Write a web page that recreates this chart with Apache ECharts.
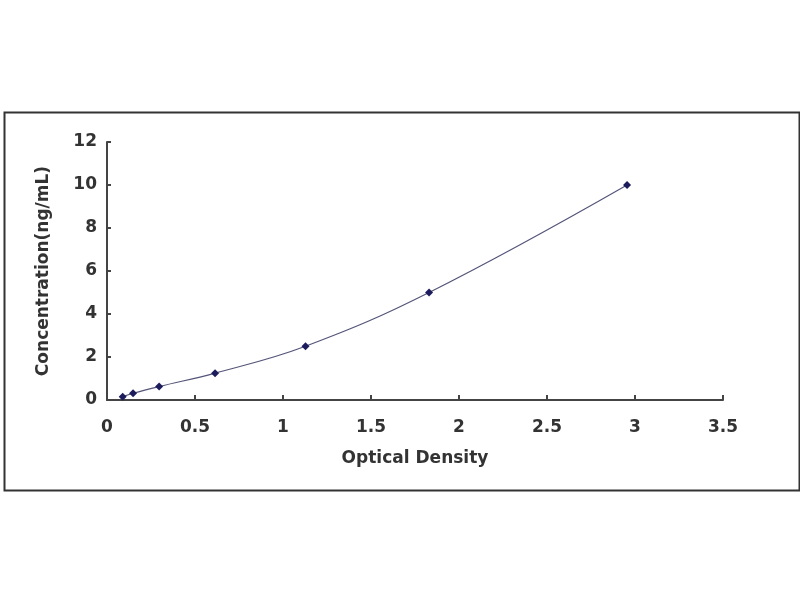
<!DOCTYPE html>
<html>
<head>
<meta charset="utf-8">
<script src="https://cdn.jsdelivr.net/npm/echarts@6/dist/echarts.min.js"></script>
<style>html,body{margin:0;padding:0;background:#fff;}#c{width:800px;height:600px;}</style>
</head>
<body>
<div id="c"></div>
<script>
const opticalDensity = [0.089, 0.148, 0.296, 0.614, 1.128, 1.83, 2.955];
const concentration = [0.156, 0.312, 0.625, 1.25, 2.5, 5, 10];
const xTicks = [0, 0.5, 1, 1.5, 2, 2.5, 3, 3.5];
const yTicks = [0, 2, 4, 6, 8, 10, 12];

const chart = echarts.init(document.getElementById('c'));
const pts = opticalDensity.map((x, i) => [x, concentration[i]]);
const font = 'DejaVu Sans, Verdana, sans-serif';
chart.setOption({
  backgroundColor: '#fff',
  animation: false,
  graphic: [{
    type: 'rect', left: 2, top: 110,
    shape: { width: 795, height: 378 },
    style: { fill: 'none', stroke: '#333', lineWidth: 2 }
  }],
  grid: { left: 107, right: 77, top: 142, bottom: 200 },
  xAxis: {
    type: 'value', min: 0, max: 3.5, interval: 0.5,
    name: 'Optical Density', nameLocation: 'middle', nameGap: 50,
    nameTextStyle: { fontFamily: font, fontWeight: 'bold', fontSize: 17, color: '#333' },
    axisLine: { lineStyle: { color: '#444', width: 2 } },
    axisTick: { inside: true, length: 5, lineStyle: { color: '#444', width: 2 } },
    axisLabel: { fontFamily: font, fontWeight: 'bold', fontSize: 17, color: '#333', margin: 19,
      formatter: v => xTicks.includes(v) ? String(v) : '' },
    splitLine: { show: false }
  },
  yAxis: {
    type: 'value', min: 0, max: 12, interval: 2,
    name: 'Concentration(ng/mL)', nameLocation: 'middle', nameGap: 55, nameRotate: 90,
    nameTextStyle: { fontFamily: font, fontWeight: 'bold', fontSize: 17, color: '#333' },
    axisLine: { show: true, lineStyle: { color: '#444', width: 2 } },
    axisTick: { show: true, inside: true, length: 4, lineStyle: { color: '#444', width: 2 } },
    axisLabel: { fontFamily: font, fontWeight: 'bold', fontSize: 17, color: '#333', margin: 10,
      formatter: v => yTicks.includes(v) ? String(v) : '' },
    splitLine: { show: false }
  },
  series: [{
    type: 'line', data: pts, smooth: 0.4,
    symbol: 'diamond', symbolSize: 8,
    itemStyle: { color: '#1c1c5c' },
    lineStyle: { color: '#55557a', width: 1.2 }
  }]
});
</script>
</body>
</html>
